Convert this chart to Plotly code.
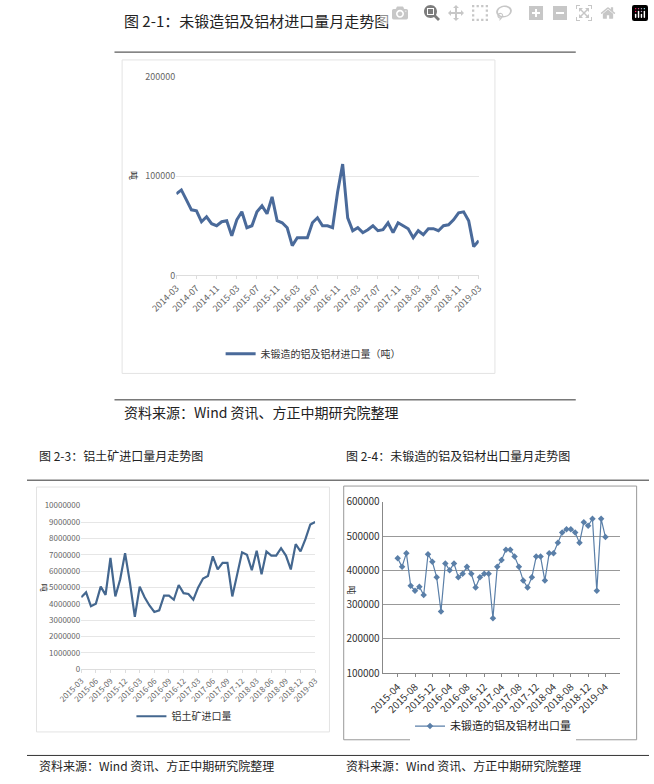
import plotly.graph_objects as go
import pandas as pd

W, H = 654, 784
def px(x): return x / W
def py(y): return 1 - y / H

months1 = [d.strftime("%Y-%m") for d in pd.date_range("2014-03", "2019-03", freq="MS")]
import_al = [82,86,76,66,65,54,59,52,50,54,55,40,56,64,48,50,64,70,62,79,55,53,48,30,38,38,38,53,58,50,50,48,84,112,
             58,45,48,43,46,50,45,46,53,43,53,50,47,38,45,41,47,47,45,50,51,56,63,64,55,29,35]
import_al = [v * 1000 for v in import_al]

months2 = [d.strftime("%Y-%m") for d in pd.date_range("2015-03", "2019-03", freq="MS")]
bauxite = [4.4,4.7,3.85,4.0,5.05,4.55,6.8,4.45,5.5,7.1,5.3,3.2,5.05,4.4,3.9,3.5,3.6,4.5,4.5,4.25,
           5.15,4.65,4.6,4.25,5.0,5.55,5.7,6.9,6.1,6.5,6.5,4.45,5.8,7.15,7.0,6.05,7.25,5.8,7.2,6.95,
           6.95,7.4,6.95,6.1,7.65,7.2,7.95,8.85,9.0]
bauxite = [v * 1e6 for v in bauxite]

months3 = [d.strftime("%Y-%m") for d in pd.date_range("2015-04", "2019-04", freq="MS")]
export_al = [435,410,450,355,340,352,328,447,425,380,280,420,400,420,380,390,410,390,350,380,
             390,390,260,410,430,460,460,440,410,370,350,380,440,440,370,450,450,480,510,520,
             520,510,480,540,530,550,340,550,497]
export_al = [v * 1000 for v in export_al]

BLUE = "#44678f"
FONT = "Noto Sans CJK SC"
fig = go.Figure()
fig.add_trace(go.Scatter(x=months1, y=import_al, mode="lines", line=dict(color="#4a6a9a", width=3),
                         name="未锻造的铝及铝材进口量（吨）", xaxis="x", yaxis="y", legend="legend"))
fig.add_trace(go.Scatter(x=months2, y=bauxite, mode="lines", line=dict(color=BLUE, width=2.2),
                         name="铝土矿进口量", xaxis="x2", yaxis="y2", legend="legend2"))
fig.add_trace(go.Scatter(x=months3, y=export_al, mode="lines+markers", line=dict(color="#5a7fa8", width=1.2),
                         marker=dict(symbol="diamond", size=5, color="#5a7fa8"),
                         name="未锻造的铝及铝材出口量", xaxis="x3", yaxis="y3", legend="legend3"))

tickf = dict(size=9, color="#666", family=FONT)
axc = dict(type="category", tickangle=-45, tickfont=tickf, showgrid=False, ticks="outside", ticklen=3)
fig.update_layout(
    width=W, height=H, margin=dict(l=0, r=0, t=0, b=0), paper_bgcolor="white", plot_bgcolor="rgba(0,0,0,0)",
    font=dict(family=FONT),
    xaxis=dict(axc, domain=[px(157), px(475)], anchor="y", tickvals=months1[::4], linecolor="#ddd", tickcolor="#ddd"),
    yaxis=dict(domain=[py(272), py(69)], range=[0, 200000], tickvals=[0, 100000, 200000], anchor="x",
               gridcolor="#e6e6e6", tickfont=tickf, zeroline=False, tickformat="d"),
    xaxis2=dict(axc, domain=[px(57), px(303)], anchor="y2", tickvals=months2[::3], linecolor="#ddd", tickcolor="#ddd",
                tickfont=dict(size=8, color="#666", family=FONT)),
    yaxis2=dict(domain=[py(674), py(507)], range=[0, 1e7], dtick=1e6, anchor="x2", gridcolor="#e6e6e6",
                tickfont=dict(size=8, color="#666", family=FONT), tickformat="d", zeroline=False),
    xaxis3=dict(axc, domain=[px(374), px(624)], anchor="y3", tickvals=months3[::4], linecolor="#888", tickcolor="#888",
                tickfont=dict(size=10, color="#333", family=FONT)),
    yaxis3=dict(domain=[py(678), py(503)], range=[100000, 600000], dtick=100000, anchor="x3", gridcolor="#999",
                showline=True, linecolor="#888", tickfont=dict(size=10, color="#333", family=FONT),
                zeroline=False, tickformat="d"),
    legend=dict(x=0.46, y=py(352), xanchor="center", yanchor="middle", orientation="h", font=dict(size=10, color="#333")),
    legend2=dict(x=px(165), y=py(722), xanchor="center", yanchor="middle", orientation="h", font=dict(size=10, color="#333")),
    legend3=dict(x=px(490), y=py(732), xanchor="center", yanchor="middle", orientation="h", font=dict(size=11, color="#222")),
    showlegend=True,
)

shapes = [
    dict(type="line", xref="paper", yref="paper", x0=px(92), x1=px(577), y0=py(44), y1=py(44), line=dict(color="#333", width=1)),
    dict(type="rect", xref="paper", yref="paper", x0=px(100), x1=px(492), y0=py(372), y1=py(52), line=dict(color="#e3e3e3", width=1)),
    dict(type="line", xref="paper", yref="paper", x0=px(92), x1=px(577), y0=py(399), y1=py(399), line=dict(color="#333", width=1)),
    dict(type="line", xref="paper", yref="paper", x0=px(0), x1=px(654), y0=py(481), y1=py(481), line=dict(color="#333", width=1)),
    dict(type="rect", xref="paper", yref="paper", x0=px(10), x1=px(318), y0=py(738), y1=py(488), line=dict(color="#e3e3e3", width=1)),
    dict(type="rect", xref="paper", yref="paper", x0=px(333), x1=px(641), y0=py(746), y1=py(487), line=dict(color="#999", width=1)),
    dict(type="line", xref="paper", yref="paper", x0=px(0), x1=px(654), y0=py(762), y1=py(762), line=dict(color="#333", width=1)),
]
fig.update_layout(shapes=shapes)

def ann(x, y, t, size=13, color="#222", xa="left", angle=0):
    fig.add_annotation(x=px(x), y=py(y), xref="paper", yref="paper", text=t, showarrow=False,
                       xanchor=xa, yanchor="middle", textangle=angle, font=dict(size=size, color=color, family=FONT))

ann(100, 12, "图 2-1：未锻造铝及铝材进口量月走势图", 15)
ann(100, 411, "资料来源：Wind 资讯、方正中期研究院整理", 14)
ann(10, 456, "图 2-3：铝土矿进口量月走势图", 12)
ann(333, 456, "图 2-4：未锻造的铝及铝材出口量月走势图", 12)
ann(10, 772, "资料来源：Wind 资讯、方正中期研究院整理", 12)
ann(333, 772, "资料来源：Wind 资讯、方正中期研究院整理", 12)
ann(112, 170, "吨", 9, "#333", "center", 90)
ann(18, 591, "吨", 8, "#333", "center", 90)
ann(341, 593, "吨", 9, "#333", "center", 90)

fig.write_html("out.html",
               post_script="document.body.style.margin='0';document.body.style.overflow='hidden';")
